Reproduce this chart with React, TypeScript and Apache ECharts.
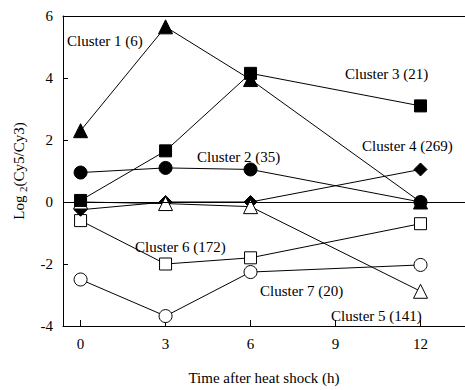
import React, { useEffect, useRef } from "react";
import * as echarts from "echarts";

const hours = [0, 3, 6, 12];
const xTicks = [0, 3, 6, 9, 12];
const cluster1 = [2.3, 5.65, 3.95, 0];
const cluster2 = [0.95, 1.1, 1.05, 0];
const cluster3 = [0.05, 1.65, 4.15, 3.1];
const cluster4 = [-0.25, 0, 0, 1.05];
const cluster5 = [0, -0.05, -0.15, -2.88];
const cluster6 = [-0.6, -2.0, -1.8, -0.7];
const cluster7 = [-2.5, -3.68, -2.26, -2.03];

const FONT = "Liberation Serif";

const pts = (vals: number[]) => hours.map((h, i) => [h, vals[i]]);

export default function App() {
  const ref = useRef<HTMLDivElement>(null);
  useEffect(() => {
    document.body.style.margin = "0";
    const chart = echarts.init(ref.current!, null, { renderer: "svg" });
    const base = (name: string, vals: number[], symbol: string, size: number, filled: boolean, extra: any = {}) => ({
      name,
      type: "line",
      data: pts(vals),
      symbol,
      symbolSize: size,
      showAllSymbol: true,
      lineStyle: { color: "#000", width: 1 },
      itemStyle: filled
        ? { color: "#000", borderColor: "#000", borderWidth: 1 }
        : { color: "#fff", borderColor: "#000", borderWidth: 1 },
      emphasis: { disabled: true },
      ...extra,
    });
    const labels = [
      { t: "Cluster 1 (6)", x: 67, y: 41 },
      { t: "Cluster 3 (21)", x: 345, y: 74 },
      { t: "Cluster 2 (35)", x: 197, y: 157 },
      { t: "Cluster 4 (269)", x: 362, y: 146 },
      { t: "Cluster 6 (172)", x: 135, y: 247 },
      { t: "Cluster 7 (20)", x: 260, y: 291 },
      { t: "Cluster 5 (141)", x: 331, y: 316 },
    ];
    chart.setOption({
      animation: false,
      backgroundColor: "#fff",
      grid: { left: 63, top: 16, right: 0, bottom: 56, containLabel: false },
      xAxis: [
        {
          type: "value",
          min: -0.62,
          max: 13.57,
          position: "bottom",
          name: "Time after heat shock (h)",
          nameLocation: "middle",
          nameGap: 44,
          nameTextStyle: { fontFamily: FONT, fontSize: 15, color: "#000" },
          axisLine: { show: true, onZero: false, lineStyle: { color: "#000", width: 1 } },
          axisTick: { show: true, inside: true, length: 6, customValues: xTicks, lineStyle: { color: "#000" } },
          axisLabel: { show: true, customValues: xTicks, fontFamily: FONT, fontSize: 15, color: "#000", margin: 10 },
          splitLine: { show: false },
        },
        {
          type: "value",
          min: -0.62,
          max: 13.57,
          position: "top",
          axisLine: { show: true, onZero: false, lineStyle: { color: "#000", width: 1 } },
          axisTick: { show: false },
          axisLabel: { show: false },
          splitLine: { show: false },
        },
      ],
      yAxis: {
        type: "value",
        min: -4,
        max: 6,
        interval: 2,
        name: "Log {sub|2}(Cy5/Cy3)",
        nameLocation: "middle",
        nameRotate: 90,
        nameGap: 35,
        nameTextStyle: {
          fontFamily: FONT,
          fontSize: 15,
          color: "#000",
          lineHeight: 18,
          rich: {
            sub: { fontFamily: FONT, fontSize: 11, color: "#000", verticalAlign: "bottom", lineHeight: 18, padding: [6, 0, 0, 0] },
          },
        },
        axisLine: { show: true, onZero: false, lineStyle: { color: "#000", width: 1 } },
        axisTick: { show: true, inside: true, length: 5, lineStyle: { color: "#000" } },
        axisLabel: { fontFamily: FONT, fontSize: 15, color: "#000", margin: 10 },
        splitLine: { show: false },
      },
      series: [
        base("Cluster 7", cluster7, "circle", 13, false, {
          markLine: {
            silent: true,
            symbol: ["none", "none"],
            label: { show: false },
            lineStyle: { color: "#000", width: 1, type: "solid" },
            data: [{ yAxis: 0 }],
          },
        }),
        base("Cluster 6", cluster6, "rect", 12, false),
        base("Cluster 1", cluster1, "triangle", 14, true),
        base("Cluster 2", cluster2, "circle", 13, true),
        base("Cluster 4", cluster4, "diamond", 13, true),
        base("Cluster 5", cluster5, "triangle", 14, false),
        base("Cluster 3", cluster3, "rect", 12, true),
      ],
      graphic: labels.map((l) => ({
        type: "text",
        x: l.x,
        y: l.y,
        silent: true,
        style: { text: l.t, fontFamily: FONT, fontSize: 15, fill: "#000", verticalAlign: "middle", align: "left" },
      })),
    });
    return () => chart.dispose();
  }, []);
  return <div ref={ref} style={{ width: 465, height: 390 }} />;
}
